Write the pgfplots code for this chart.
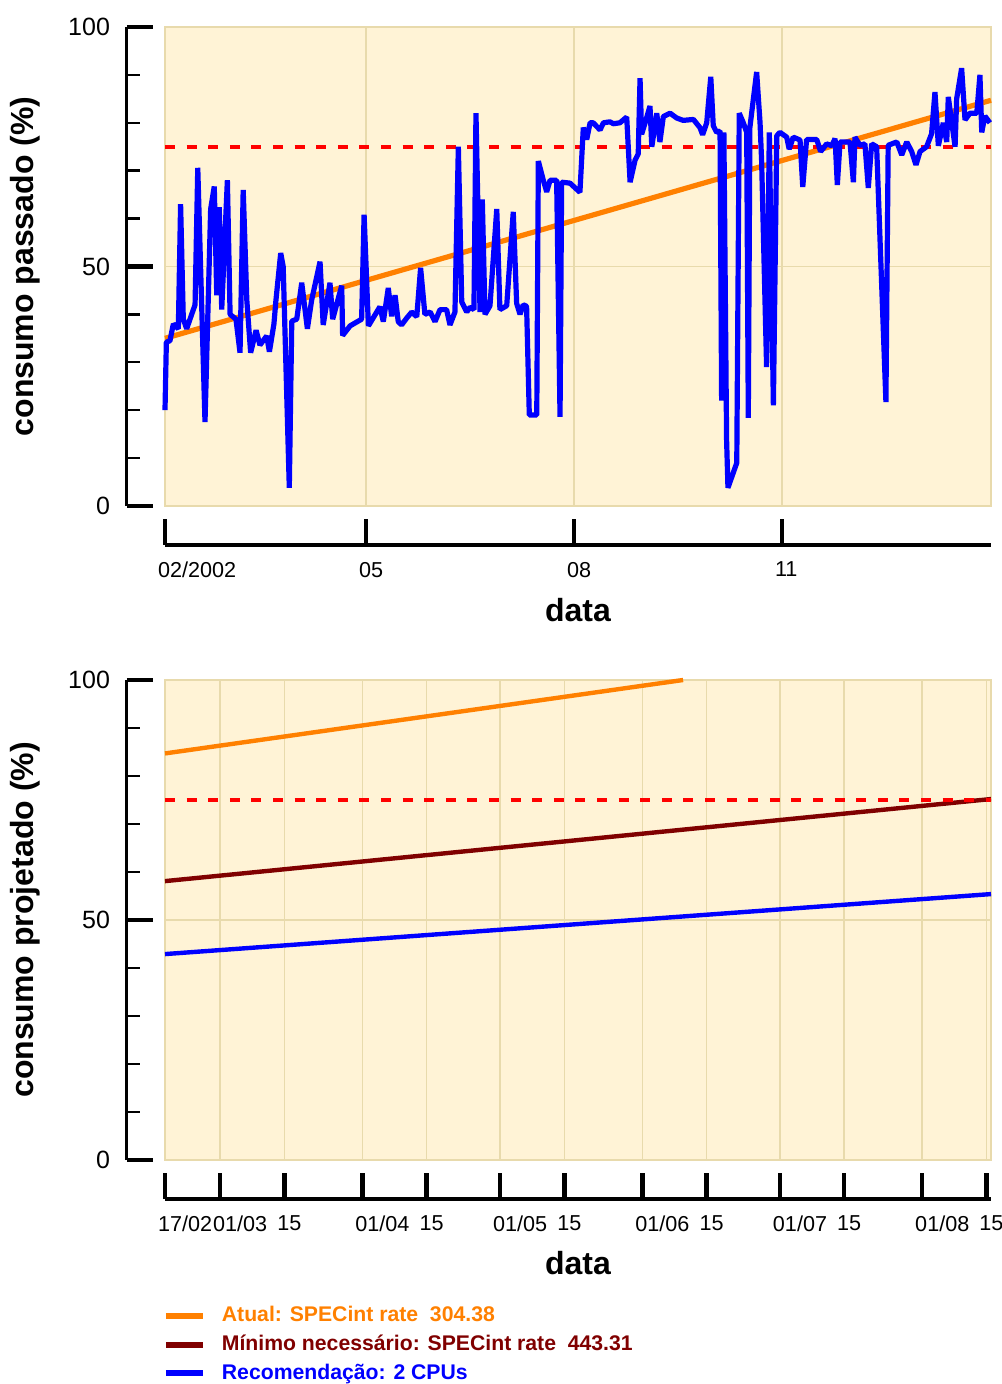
\documentclass[border=0pt]{standalone}
\usepackage{fontspec}
\setmainfont{Liberation Sans}
\usepackage{pgfplots}
\usepackage{pgfplotstable}
\pgfplotsset{compat=1.18}
\definecolor{bgcream}{RGB}{255,243,214}
\definecolor{gridtan}{RGB}{232,218,172}
\definecolor{myorange}{RGB}{255,128,0}
\definecolor{mydarkred}{RGB}{128,0,0}
\definecolor{myblue}{RGB}{0,0,255}
\definecolor{myred}{RGB}{255,0,0}

\pgfplotstableread{
d v
0 20
0.6 34.2
2.2 34.5
3.7 38
5.9 37
6.9 63
8.1 39
9.6 37
11.8 40
13.3 42
14.5 70.6
17.7 17.5
20.2 62
21.8 66.7
22.9 44
24.0 62.4
25.1 41
27.6 68
28.8 40
31.4 39
33.2 32
34.6 66
36.2 43
37.9 32
40.3 36.7
42.0 33.6
45.0 35.5
46.2 32.2
48.2 38
49.1 43
51.2 52.8
52.3 50
55.0 3.8
56.1 38.6
58.3 39
60.5 46.6
63.0 37
64.9 43
68.6 51
70.0 37.8
73.0 46.6
74.2 39
78.2 46
78.6 35.6
81.9 37.6
87.0 39
88.1 60.8
90.0 37.6
95.1 41.6
96.6 38.5
98.8 45.5
100.3 39.6
101.8 44
103.2 38.5
104.7 37.8
106.9 39.2
109.2 40.5
111.4 39.5
113.1 49.7
115.0 40
117.3 40.5
119.5 38.5
121.7 41
124.6 41
126.1 37.8
128.3 40.5
129.8 75
131.3 42.6
133.5 40.5
135.0 41.5
136.7 41
137.6 82
139.4 40.5
140.4 64
141.6 40
143.8 41.8
146.8 62
148.2 41
151.2 41.8
154.1 61.4
155.6 42.3
157.1 40
158.5 42
160.0 41.7
161.2 19
164.5 19
165.2 72
167.4 68
168.9 65.6
170.4 68
173.3 68
174.8 18.6
175.5 67.6
179.2 67.4
183.6 65.5
185.1 79
186.6 76.5
188.1 80
189.5 80
192.5 78.5
194.0 80
196.9 80.2
198.4 79.8
201.3 80
204.3 81.2
205.8 67.6
208.0 72.2
209.4 73.5
210.2 89.3
210.9 77.6
213.1 81
214.6 83.5
215.4 75
217.6 82
219.0 76
220.5 81.3
223.5 82
226.4 81
229.3 80.5
233.8 80.7
236.7 79
237.9 77.5
239.7 80
241.5 89.6
242.6 79.4
244.1 78
245.6 78.3
246.3 22
247.3 78
248.5 13.8
249.1 3.8
253.0 9
254.1 82
255.9 80
257.4 78
258.1 18.4
258.8 79
261.8 90.6
263.3 80
264.0 72
266.2 29
267.4 78
269.2 21
270.7 77.3
272.1 78
275.1 77
276.2 74.5
278.0 77
281.0 76.4
282.2 66.6
283.9 76.5
288.4 76.5
290.1 74
292.8 75.6
295.0 75.2
296.5 76.7
297.5 67
298.7 76
303.1 76
304.6 67.6
305.3 77
307.5 75.3
309.7 75.6
311.2 66.4
312.7 75.6
314.9 75
319.0 21.7
320.0 75.3
323.8 76
326.0 73.3
328.2 76
330.4 74
332.3 71.2
334.1 74
337.0 75
339.2 77.7
340.7 86.4
342.2 75.2
344.4 80
345.9 76
346.6 85.4
349.6 75
350.3 85
352.5 91.4
354.0 80.6
356.2 82
359.2 82
360.6 90
361.4 78
362.8 81.4
365.0 80
}\pasttable

\pgfplotsset{
  panel/.style={
    scale only axis, width=413pt,
    axis x line=bottom, axis y line=left,
    axis x line shift=19.5pt, axis y line shift=19pt,
    x axis line style={-, line width=2pt},
    y axis line style={-, line width=1.5pt},
    axis background/.style={fill=bgcream, draw=gridtan, line width=0.6pt},
    ymin=0, ymax=100, ytick={0,50,100},
    minor ytick={10,20,30,40,60,70,80,90},
    tick align=inside, major tick length=13pt, minor tick length=6.5pt,
    major tick style={line width=2.3pt, black},
    minor tick style={line width=1.2pt, black},
    xmajorgrids, ymajorgrids,
    major grid style={gridtan, line width=0.7pt},
    /pgf/number format/assume math mode=true,
    yticklabel style={font=\fontsize{12.5}{15}\selectfont, xshift=-5pt},
    xticklabel style={font=\fontsize{10.8}{13}\selectfont, anchor=north west, xshift=-7pt, yshift=-5pt},
    label style={font=\fontsize{16}{19}\selectfont\bfseries},
    clip=false,
  }
}

\begin{document}
\begin{tikzpicture}
\useasboundingbox (-82.5pt,-439pt) rectangle (418pt,253pt);
% top panel
\begin{axis}[panel, at={(0,0)}, anchor=south west, height=239.5pt,
  xmin=0, xmax=365.5,
  xtick={0,89,181,273}, xticklabels={02/2002,05,08,11},
  xlabel={data}, ylabel={consumo passado (\%)},
  xlabel style={at={(axis description cs:0.5,-0.217)}, anchor=center},
  ylabel style={at={(axis description cs:-0.1695,0.5)}, anchor=center},
]
\addplot[myorange, line width=2.6pt] coordinates {(0,35) (365.5,84.7)};
\addplot[myred, line width=1.8pt, dash pattern=on 5pt off 5.8pt] coordinates {(0,75) (365.5,75)};
\addplot[myblue, line width=2.6pt, line join=bevel] table[x=d, y=v] {\pasttable};
\end{axis}
% bottom panel
\begin{axis}[panel, at={(0,-327pt)}, anchor=south west, height=240pt,
  xmin=0, xmax=180,
  xtick={0,12,26,43,57,73,87,104,118,134,148,165,179},
  xticklabels={17/02,01/03,15,01/04,15,01/05,15,01/06,15,01/07,15,01/08,15},
  xlabel={data}, ylabel={consumo projetado (\%)},
  xlabel style={at={(axis description cs:0.5,-0.2146)}, anchor=center},
  ylabel style={at={(axis description cs:-0.1695,0.5)}, anchor=center},
  legend cell align=left,
  legend image code/.code={\draw[#1, line width=3pt] (0pt,0pt) -- (18.5pt,0pt); \path[draw=none, fill=none] (26pt,0pt) circle[radius=0pt];},
  legend style={at={(axis description cs:-0.003,-0.296)}, anchor=north west,
    draw=none, fill=none, inner sep=0pt, row sep=1.2pt,
    font=\fontsize{10.6}{12.5}\selectfont\bfseries},
]
\addplot[myorange, line width=2.2pt] coordinates {(0,84.7) (112.9,100)};
\addlegendentry{\textcolor{myorange}{Atual: SPECint rate~~304.38}}
\addplot[mydarkred, line width=2.2pt] coordinates {(0,58.1) (180,75.2)};
\addlegendentry{\textcolor{mydarkred}{Mínimo necessário: SPECint rate~~443.31}}
\addplot[myblue, line width=2.2pt] coordinates {(0,42.9) (180,55.4)};
\addlegendentry{\textcolor{myblue}{Recomendação: 2 CPUs}}
\addplot[myred, line width=1.8pt, dash pattern=on 5pt off 5.8pt, forget plot] coordinates {(0,75) (180,75)};
\end{axis}
\end{tikzpicture}
\end{document}
